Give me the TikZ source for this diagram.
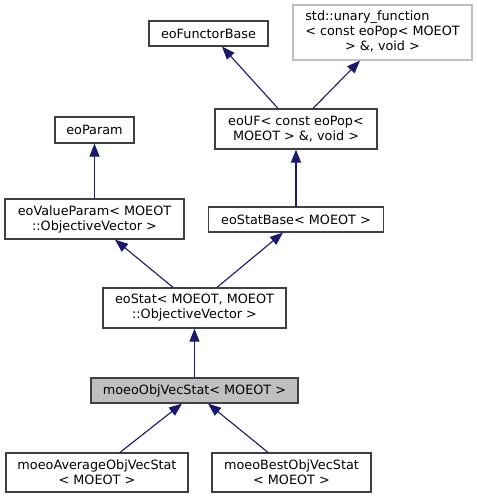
\documentclass[tikz,border=0pt]{standalone}
\usepackage{fontspec}
\setmainfont{DejaVu Sans}
\usetikzlibrary{arrows.meta,calc}
\definecolor{edgeblue}{HTML}{191970}
\definecolor{boxgray}{HTML}{404040}
\definecolor{boxlight}{HTML}{BFBFBF}

\begin{document}
\begin{tikzpicture}[x=1pt, y=-1pt, >={Triangle[length=13pt,width=10pt]},
    cls/.style={draw=boxgray, line width=1.2pt, fill=white, inner sep=0pt, align=center,
        font=\fontsize{12.8}{15}\selectfont},
    edge/.style={<-, draw=edgeblue, fill=edgeblue, line width=1.1pt}]
    \useasboundingbox (0,0) rectangle (477,499);

    % 定义类节点
    \node[cls, minimum width=119pt, minimum height=25pt] (functorbase) at (208.5,33.5) {eoFunctorBase};
    \node[cls, draw=boxlight, minimum width=179pt, minimum height=55pt] (unary) at (382.5,32.5)
        {\begin{tabular}{@{}c@{}}\multicolumn{1}{@{}l@{}}{std::unary\_function}\\< const eoPop< MOEOT\\> \&, void >\end{tabular}};
    \node[cls, minimum width=162pt, minimum height=40pt] (uf) at (296,129) {eoUF< const eoPop<\\MOEOT > \&, void >};
    \node[cls, minimum width=79pt, minimum height=26pt] (param) at (94.5,130) {eoParam};
    \node[cls, minimum width=179pt, minimum height=40pt] (valueparam) at (94.5,219) {eoValueParam< MOEOT\\::ObjectiveVector >};
    \node[cls, minimum width=175pt, minimum height=25pt] (statbase) at (296,219.5) {eoStatBase< MOEOT >};
    \node[cls, minimum width=183pt, minimum height=40pt] (stat) at (194.5,308) {eoStat< MOEOT, MOEOT\\::ObjectiveVector >};
    \node[cls, fill=boxlight, minimum width=207pt, minimum height=25pt] (objvec) at (194.5,390.5) {moeoObjVecStat< MOEOT >};
    \node[cls, minimum width=182pt, minimum height=39pt] (average) at (97,472.5) {moeoAverageObjVecStat\\< MOEOT >};
    \node[cls, minimum width=159pt, minimum height=39pt] (best) at (291.5,472.5) {moeoBestObjVecStat\\< MOEOT >};

    % 绘制继承箭头
    \draw[edge] ([xshift=13.5pt]functorbase.south) -- ([xshift=-18pt]uf.north);
    \draw[edge] ([xshift=-22.5pt]unary.south) -- ([xshift=17pt]uf.north);
    \draw[edge] (uf.south) -- (statbase.north);
    \draw[edge] (param.south) -- (valueparam.north);
    \draw[edge] ([xshift=20.5pt]valueparam.south) -- ([xshift=-21.5pt]stat.north);
    \draw[edge] ([xshift=-13pt]statbase.south) -- ([xshift=22.5pt]stat.north);
    \draw[edge] (stat.south) -- (objvec.north);
    \draw[edge] ([xshift=-12.5pt]objvec.south) -- ([xshift=23pt]average.north);
    \draw[edge] ([xshift=13.5pt]objvec.south) -- ([xshift=-23.5pt]best.north);
\end{tikzpicture}
\end{document}
